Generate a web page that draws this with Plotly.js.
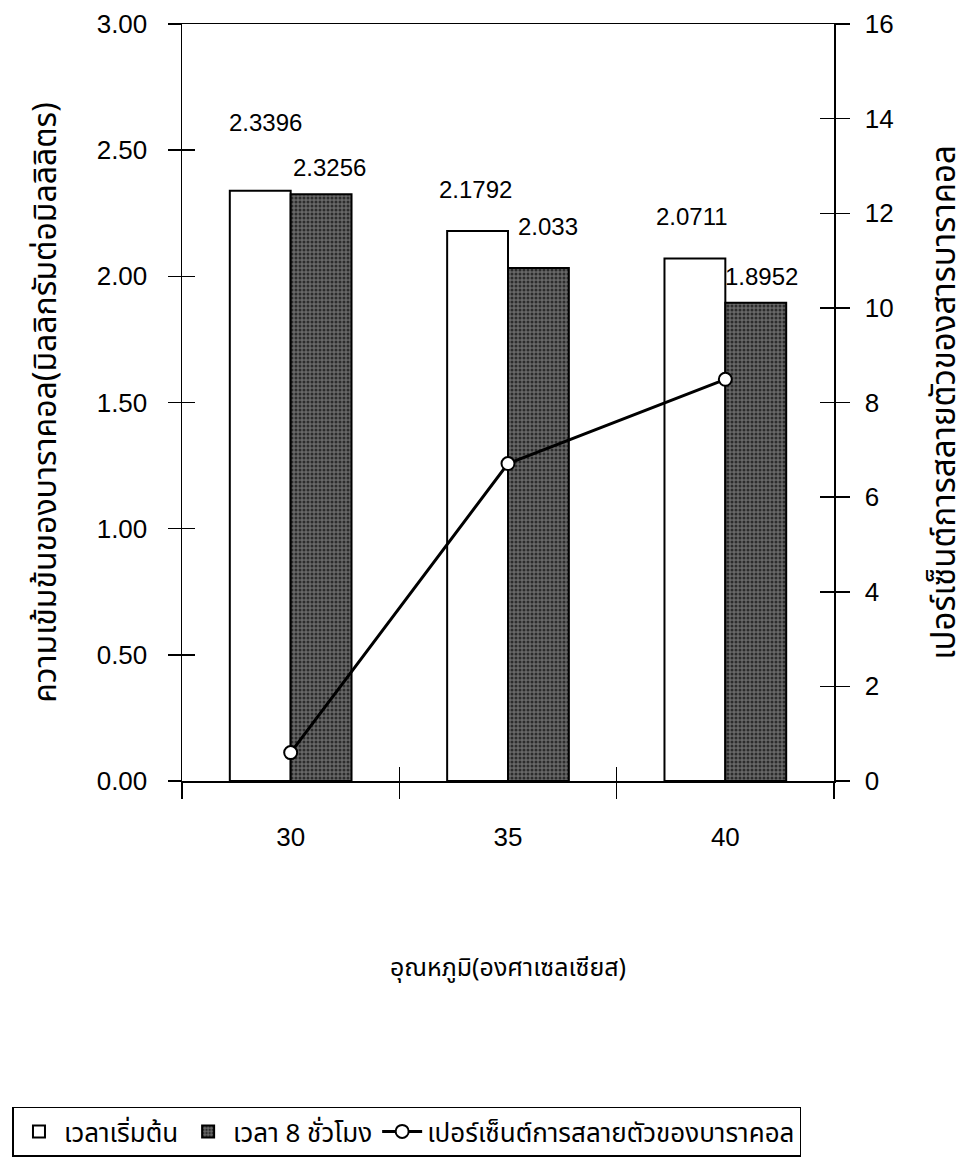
<!DOCTYPE html>
<html>
<head>
<meta charset="utf-8">
<script src="https://cdn.plot.ly/plotly-3.0.1.min.js"></script>
<style>html,body{margin:0;padding:0;background:#fff;}#chart{width:970px;height:1174px;}</style>
</head>
<body>
<div id="chart"></div>
<script>
// ---- data ----
const categories = ['30', '35', '40'];
const initialConc = [2.3396, 2.1792, 2.0711];   // เวลาเริ่มต้น
const after8hConc = [2.3256, 2.033, 1.8952];    // เวลา 8 ชั่วโมง
const percentDegraded = [0.60, 6.71, 8.49];     // เปอร์เซ็นต์การสลายตัวของบาราคอล
const initialLabels = ['2.3396', '2.1792', '2.0711'];
const after8hLabels = ['2.3256', '2.033', '1.8952'];
const leftTicks = [0, 0.5, 1, 1.5, 2, 2.5, 3];
const rightTicks = [0, 2, 4, 6, 8, 10, 12, 14, 16];

const seriesNames = ['เวลาเริ่มต้น', 'เวลา 8 ชั่วโมง', 'เปอร์เซ็นต์การสลายตัวของบาราคอล'];
const xTitle = 'อุณหภูมิ(องศาเซลเซียส)';
const yTitle = 'ความเข้มข้นของบาราคอล(มิลลิกรัมต่อมิลลิลิตร)';
const y2Title = 'เปอร์เซ็นต์การสลายตัวของสารบาราคอล';

// ---- styling ----
const numFont = 'Liberation Sans, Arial, sans-serif';
const thaiFont = 'Noto Sans Thai, Noto Sans Thai Looped, Loma, Garuda, Norasi, Liberation Sans, sans-serif';
const BARGAP = 0.44;
const barHalf = (1 - BARGAP) / 4;  // offset of each bar centre from the category centre
// label offsets (px) relative to the bar top centre
const initShift = [[5, 68], [-2, 42], [-3, 42]];
const afterShift = [[8, 27], [10, 42], [6, 26]];

const traces = [
  {
    type: 'bar', name: seriesNames[0], x: categories, y: initialConc,
    xaxis: 'x', yaxis: 'y',
    marker: {color: '#ffffff', line: {color: '#000', width: 2}},
    hoverinfo: 'skip'
  },
  {
    type: 'bar', name: seriesNames[1], x: categories, y: after8hConc,
    xaxis: 'x', yaxis: 'y',
    marker: {color: '#5a5a5a', line: {color: '#000', width: 2},
      pattern: {shape: '.', bgcolor: '#686868', fgcolor: '#2c2c2c', size: 4, solidity: 0.45, fillmode: 'replace'}},
    hoverinfo: 'skip'
  },
  {
    type: 'scatter', mode: 'lines+markers', name: seriesNames[2],
    x: categories, y: percentDegraded, xaxis: 'x2', yaxis: 'y2',
    line: {color: '#000', width: 3},
    marker: {symbol: 'circle', size: 13, color: '#fff', line: {color: '#000', width: 2}},
    hoverinfo: 'skip'
  },
  // carriers for the inner tick marks of both value axes
  {type: 'scatter', mode: 'markers', x: [categories[0]], y: [null], xaxis: 'x', yaxis: 'y3', showlegend: false, hoverinfo: 'skip'},
  {type: 'scatter', mode: 'markers', x: [categories[0]], y: [null], xaxis: 'x', yaxis: 'y4', showlegend: false, hoverinfo: 'skip'}
];

const annotations = [];
categories.forEach((c, i) => {
  annotations.push({
    xref: 'x', yref: 'y', x: i - barHalf, y: initialConc[i], text: initialLabels[i],
    showarrow: false, xanchor: 'center', yanchor: 'middle',
    xshift: initShift[i][0], yshift: initShift[i][1],
    font: {family: numFont, size: 24, color: '#000'}
  });
  annotations.push({
    xref: 'x', yref: 'y', x: i + barHalf, y: after8hConc[i], text: after8hLabels[i],
    showarrow: false, xanchor: 'center', yanchor: 'middle',
    xshift: afterShift[i][0], yshift: afterShift[i][1],
    font: {family: numFont, size: 24, color: '#000'}
  });
});

const layout = {
  width: 970, height: 1174,
  margin: {l: 180, r: 136, t: 24, b: 393, pad: 0},
  paper_bgcolor: '#fff', plot_bgcolor: '#fff',
  barmode: 'group', bargap: BARGAP, bargroupgap: 0,
  showlegend: true,
  font: {family: numFont, color: '#000'},
  xaxis: {
    type: 'category', range: [-0.5, 2.5], tickson: 'boundaries',
    ticks: 'outside', ticklen: 16, tickwidth: 1.5, tickcolor: '#000',
    showline: true, linecolor: '#000', linewidth: 1.5, mirror: true,
    showgrid: false, zeroline: false,
    ticklabelstandoff: 32,
    tickfont: {family: numFont, size: 26, color: '#000'},
    title: {text: xTitle, standoff: 108, font: {family: thaiFont, size: 25, color: '#000'}},
    automargin: false, fixedrange: true
  },
  xaxis2: {
    type: 'category', range: [-0.5, 2.5], overlaying: 'x', anchor: 'y', side: 'bottom',
    tickson: 'boundaries', ticks: 'inside', ticklen: 14, tickwidth: 1.5, tickcolor: '#000',
    showticklabels: false, showline: false, showgrid: false, zeroline: false,
    automargin: false, fixedrange: true
  },
  yaxis: {
    range: [0, 3], tickvals: leftTicks, tickformat: '.2f',
    ticks: 'outside', ticklen: 13, tickwidth: 1.5, tickcolor: '#000',
    showline: true, linecolor: '#000', linewidth: 1.5,
    showgrid: false, zeroline: false,
    ticklabelstandoff: 15,
    tickfont: {family: numFont, size: 26, color: '#000'},
    title: {text: yTitle, standoff: 30, font: {family: thaiFont, size: 32, color: '#000'}},
    automargin: false, fixedrange: true
  },
  yaxis3: {
    range: [0, 3], tickvals: leftTicks, overlaying: 'y', side: 'left', anchor: 'x',
    ticks: 'inside', ticklen: 13, tickwidth: 1.5, tickcolor: '#000',
    showticklabels: false, showline: false, showgrid: false, zeroline: false,
    automargin: false, fixedrange: true
  },
  yaxis2: {
    range: [0, 16], tickvals: rightTicks, overlaying: 'y', side: 'right', anchor: 'x',
    ticks: 'outside', ticklen: 14, tickwidth: 1.5, tickcolor: '#000',
    showline: true, linecolor: '#000', linewidth: 1.5,
    showgrid: false, zeroline: false,
    ticklabelstandoff: 10,
    tickfont: {family: numFont, size: 26, color: '#000'},
    title: {text: y2Title, standoff: 58, font: {family: thaiFont, size: 33, color: '#000'}},
    automargin: false, fixedrange: true
  },
  yaxis4: {
    range: [0, 16], tickvals: rightTicks, overlaying: 'y', side: 'right', anchor: 'x',
    ticks: 'inside', ticklen: 14, tickwidth: 1.5, tickcolor: '#000',
    showticklabels: false, showline: false, showgrid: false, zeroline: false,
    automargin: false, fixedrange: true
  },
  legend: {
    orientation: 'h', x: -0.26, xanchor: 'left', y: -0.43, yanchor: 'top',
    bordercolor: '#000', borderwidth: 1.5, bgcolor: '#fff',
    font: {family: thaiFont, size: 26, color: '#000'},
    itemwidth: 40, traceorder: 'normal'
  },
  annotations: annotations
};

Plotly.newPlot('chart', traces, layout, {staticPlot: true, displayModeBar: false});
</script>
</body>
</html>
